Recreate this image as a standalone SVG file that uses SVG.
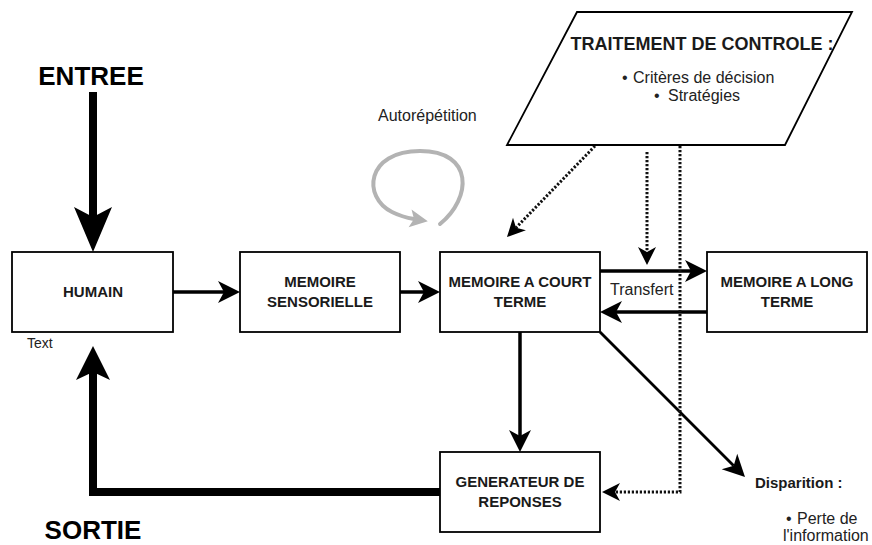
<svg xmlns="http://www.w3.org/2000/svg" width="872" height="545" viewBox="0 0 872 545">
  <style>
    .box { fill: #ffffff; stroke: #000000; stroke-width: 1.8; }
    .lbl { font-family: "Liberation Sans", Arial, sans-serif; font-weight: bold; font-size: 15px; fill: #1a1a1a; text-anchor: middle; }
    .txt { font-family: "Liberation Sans", Arial, sans-serif; font-size: 16px; fill: #222222; }
    .big { font-family: "Liberation Sans", Arial, sans-serif; font-weight: bold; font-size: 26px; fill: #000000; text-anchor: middle; }
    .thin { fill: none; stroke: #000000; stroke-width: 3.5; }
    .diag { fill: none; stroke: #000000; stroke-width: 2.8; }
    .thick { fill: none; stroke: #000000; stroke-width: 8; stroke-linejoin: miter; }
    .dot { fill: none; stroke: #111111; stroke-width: 3; stroke-dasharray: 2.2 1.8; }
    .loop { fill: none; stroke: #b3b3b3; stroke-width: 4; stroke-linecap: round; }
  </style>
  <defs>
    <marker id="headThin" markerUnits="userSpaceOnUse" viewBox="-30 -30 60 60" markerWidth="60" markerHeight="60" refX="0" refY="0" orient="auto" overflow="visible">
      <path d="M-6,-11 L16,0 L-6,11 L0,0 Z" fill="#000000"/>
    </marker>
    <marker id="headEntree" markerUnits="userSpaceOnUse" viewBox="-50 -50 100 100" markerWidth="100" markerHeight="100" refX="0" refY="0" orient="auto" overflow="visible">
      <path d="M-10,-19 L35,0 L-10,19 L0,0 Z" fill="#000000"/>
    </marker>
    <marker id="headSortie" markerUnits="userSpaceOnUse" viewBox="-50 -50 100 100" markerWidth="100" markerHeight="100" refX="0" refY="0" orient="auto" overflow="visible">
      <path d="M-8,-17 L26,0 L-8,17 L0,0 Z" fill="#000000"/>
    </marker>
    <marker id="headDot" markerUnits="userSpaceOnUse" viewBox="-30 -30 60 60" markerWidth="60" markerHeight="60" refX="0" refY="0" orient="auto" overflow="visible">
      <path d="M-5,-9 L13,0 L-5,9 L0,0 Z" fill="#000000"/>
    </marker>
    <marker id="headGray" markerUnits="userSpaceOnUse" viewBox="-30 -30 60 60" markerWidth="60" markerHeight="60" refX="0" refY="0" orient="auto" overflow="visible">
      <path d="M-4,-9 L14,0 L-4,9 L0,0 Z" fill="#b3b3b3"/>
    </marker>
  </defs>

  <!-- connectors -->
  <g id="connectors">
    <!-- input / output -->
    <path class="thick" d="M93,92 L93,217" marker-end="url(#headEntree)"/>
    <path class="thick" d="M440,492 L93,492 L93,372" marker-end="url(#headSortie)"/>
    <!-- main flow -->
    <path class="thin" d="M173,292 L224,292" marker-end="url(#headThin)"/>
    <path class="thin" d="M400,292 L424,292" marker-end="url(#headThin)"/>
    <path class="thin" d="M600,271 L691,271" marker-end="url(#headThin)"/>
    <path class="thin" d="M707,312 L616,312" marker-end="url(#headThin)"/>
    <path class="thin" d="M520,332 L520,436" marker-end="url(#headThin)"/>
    <path class="diag" d="M600,332 L733.7,465.7" marker-end="url(#headThin)"/>
    <!-- control (dotted) -->
    <path class="dot" d="M595,146 L516,227.7" marker-end="url(#headDot)"/>
    <path class="dot" d="M647,152 L647,252" marker-end="url(#headDot)"/>
    <path class="dot" d="M680,146 L680,492 L615,492" marker-end="url(#headDot)"/>
    <!-- rehearsal loop -->
    <path class="loop" d="M440,224 C472,198 474,151 420,151 C366,151 362,197 392,212 Q402,217 414,219" marker-end="url(#headGray)"/>
  </g>

  <!-- free labels -->
  <text class="big" x="91" y="85">ENTREE</text>
  <text class="big" x="93" y="539">SORTIE</text>
  <text class="txt" x="378" y="121">Autorépétition</text>
  <text class="txt" x="610" y="295">Transfert</text>
  <text class="txt" x="27" y="348" style="font-size:14px">Text</text>

  <g id="controle">
    <polygon class="box" points="577,12 852,12 785,145 507,145"/>
    <text class="lbl" x="702" y="50" style="font-size:18px">TRAITEMENT DE CONTROLE :</text>
    <text class="txt" x="622" y="83">•<tspan x="633">Critères de décision</tspan></text>
    <text class="txt" x="654" y="101">•<tspan x="668">Stratégies</tspan></text>
  </g>

  <g id="humain">
    <rect class="box" x="12" y="252" width="161" height="80"/>
    <text class="lbl" x="93" y="297">HUMAIN</text>
  </g>

  <g id="sensorielle">
    <rect class="box" x="240" y="252" width="160" height="80"/>
    <text class="lbl" x="320" y="287">MEMOIRE</text>
    <text class="lbl" x="320" y="307">SENSORIELLE</text>
  </g>

  <g id="court-terme">
    <rect class="box" x="440" y="252" width="160" height="80"/>
    <text class="lbl" x="520" y="287">MEMOIRE A COURT</text>
    <text class="lbl" x="520" y="307">TERME</text>
  </g>

  <g id="long-terme">
    <rect class="box" x="707" y="252" width="160" height="80"/>
    <text class="lbl" x="787" y="287">MEMOIRE A LONG</text>
    <text class="lbl" x="787" y="307">TERME</text>
  </g>

  <g id="generateur">
    <rect class="box" x="440" y="452" width="160" height="80"/>
    <text class="lbl" x="520" y="487">GENERATEUR DE</text>
    <text class="lbl" x="520" y="507">REPONSES</text>
  </g>

  <g id="disparition">
    <text class="lbl" x="755" y="488" style="text-anchor:start">Disparition :</text>
    <text class="txt" x="786" y="524">•<tspan x="797">Perte de</tspan></text>
    <text class="txt" x="783" y="541">l'information</text>
  </g>
</svg>
